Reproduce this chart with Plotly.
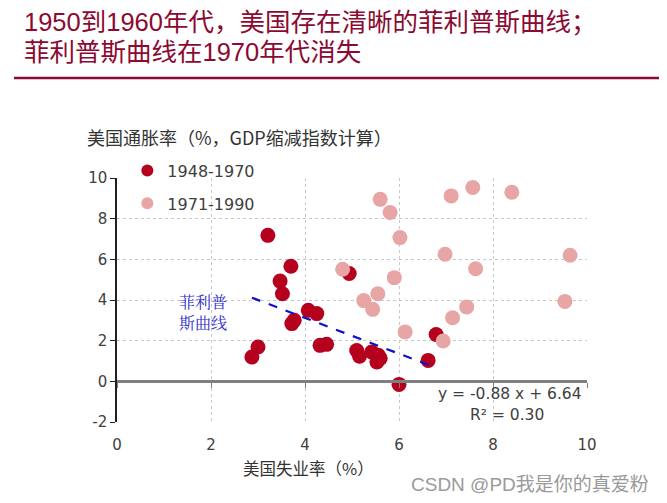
import plotly.graph_objects as go

# ---- data ----
early_unemp = [3.21, 3.70, 3.47, 3.52, 3.72, 3.77, 4.07, 4.25, 4.32, 4.46, 2.87, 3.00,
               5.10, 5.16, 5.42, 5.56, 5.53, 5.60, 6.00, 6.79, 6.62, 4.94]
early_infl = [7.18, 5.66, 4.93, 4.31, 2.84, 3.00, 3.49, 3.33, 1.77, 1.82, 1.20, 1.69,
              1.52, 1.23, 1.44, 1.28, 0.95, 1.13, -0.15, 2.30, 1.03, 5.30]
late_unemp = [5.60, 5.81, 6.02, 7.11, 7.57, 8.40, 6.98, 9.64, 4.80, 7.63, 5.90, 5.55,
              5.25, 5.44, 6.13, 6.94, 7.14, 7.44, 9.53]
late_infl = [8.95, 8.30, 7.07, 9.12, 9.53, 9.30, 6.25, 6.20, 5.51, 5.54, 5.10, 4.31,
             3.97, 3.54, 2.43, 1.98, 3.13, 3.66, 3.93]
series_names = ["1948-1970", "1971-1990"]
slope, intercept, r2 = -0.88, 6.64, 0.30
x_ticks = [0, 2, 4, 6, 8, 10]
y_ticks = [-2, 0, 2, 4, 6, 8, 10]
y_tick_text = ["-2", "0", "2", "4", "6", "8", "10"]

DARK = "#B5001E"
PINK = "#E8A5A5"
TXT = "#404040"
NUM_FONT = "DejaVu Sans, Noto Sans CJK SC"
CJK_FONT = "Noto Sans CJK SC"
OFF = 8  # page body margin

fig = go.Figure()
fig.add_trace(go.Scatter(x=early_unemp, y=early_infl, mode="markers", name=series_names[0],
                         legendgroup="a",
                         marker=dict(color=DARK, size=15, line=dict(width=0))))
fig.add_trace(go.Scatter(x=late_unemp, y=late_infl, mode="markers", name=series_names[1],
                         legendgroup="b",
                         marker=dict(color=PINK, size=15, line=dict(width=0))))
# trend line over the range of the 1948-1970 data
x0, x1 = min(early_unemp), max(early_unemp)
fig.add_trace(go.Scatter(x=[x0, x1], y=[slope * x0 + intercept, slope * x1 + intercept],
                         mode="lines", showlegend=False,
                         line=dict(color="#1010CC", width=2.2, dash="dash")))
# invisible trace to host the zero-line axis
fig.add_trace(go.Scatter(x=[0, 10], y=[0, 0], xaxis="x2", mode="lines",
                         line=dict(width=0), showlegend=False, hoverinfo="skip"))

fig.update_layout(
    width=667, height=503,
    margin=dict(l=117 - OFF, r=667 - (587 - OFF), t=178 - OFF, b=503 - (422 - OFF)),
    paper_bgcolor="white", plot_bgcolor="white",
    showlegend=True,
    legend=dict(x=0.022, y=1.10, xanchor="left", yanchor="top", itemsizing="constant",
                font=dict(family=NUM_FONT, size=16, color=TXT),
                tracegroupgap=9, bgcolor="rgba(0,0,0,0)", itemwidth=30),
    xaxis=dict(range=[0, 10], tickvals=x_ticks, showgrid=True, gridcolor="#C8C8C8",
               griddash="dot", gridwidth=1, zeroline=False, showline=False,
               ticklabelstandoff=12,
               tickfont=dict(family=NUM_FONT, size=15, color=TXT), ticks=""),
    xaxis2=dict(range=[0, 10], overlaying="x", anchor="free", position=2 / 12,
                tickvals=x_ticks, showticklabels=False, showgrid=False, zeroline=False,
                showline=True, linecolor="#7F7F7F", linewidth=2.5,
                ticks="outside", ticklen=5, tickcolor="#7F7F7F", tickwidth=1.2),
    yaxis=dict(range=[-2, 10], tickvals=y_ticks, ticktext=y_tick_text, showgrid=True,
               gridcolor="#C8C8C8",
               griddash="dot", gridwidth=1, zeroline=False, showline=True,
               linecolor="#202020", linewidth=1.5, ticks="outside", ticklen=5,
               tickcolor="#202020", tickfont=dict(family=NUM_FONT, size=15, color=TXT)),
)

ann = [
    dict(text="1950到1960年代，美国存在清晰的菲利普斯曲线；", xref="paper", yref="paper",
         x=(22 - 117) / 470, y=(422 - 22) / 244, xanchor="left", yanchor="middle",
         showarrow=False,
         font=dict(family="Liberation Sans, Noto Sans CJK SC", size=25.5, color="#8B0A32")),
    dict(text="菲利普斯曲线在1970年代消失", xref="paper", yref="paper",
         x=(22 - 117) / 470, y=(422 - 52) / 244, xanchor="left", yanchor="middle",
         showarrow=False,
         font=dict(family="Liberation Sans, Noto Sans CJK SC", size=25.5, color="#8B0A32")),
    dict(text="美国通胀率（%，GDP缩减指数计算）", xref="paper", yref="paper",
         x=(85 - 117) / 470, y=(422 - 137) / 244, xanchor="left", yanchor="middle",
         showarrow=False, font=dict(family=CJK_FONT, size=18, color="#333333")),
    dict(text="美国失业率（%）", xref="paper", yref="paper",
         x=(308 - 117) / 470, y=(422 - 468) / 244, xanchor="center", yanchor="middle",
         showarrow=False, font=dict(family=CJK_FONT, size=16.5, color="#333333")),
    dict(text="CSDN @PD我是你的真爱粉", xref="paper", yref="paper",
         x=(651 - 117) / 470, y=(422 - 484) / 244, xanchor="right", yanchor="middle",
         showarrow=False, font=dict(family="Liberation Sans, Noto Sans CJK SC", size=19,
                                    color="#9A9A9A")),
    dict(text="菲利普<br>斯曲线", xref="x", yref="y", x=1.83, y=3.4,
         xanchor="center", yanchor="middle", showarrow=False, align="center",
         font=dict(family="Noto Serif CJK SC, Noto Sans CJK SC", size=16, color="#3030C8")),
    dict(text=f"y = {slope:.2f} x + {intercept:.2f}", xref="x", yref="y", x=8.36, y=-0.6,
         xanchor="center", yanchor="middle", showarrow=False,
         font=dict(family=NUM_FONT, size=15.5, color=TXT)),
    dict(text=f"R² = {r2:.2f}", xref="x", yref="y", x=8.3, y=-1.68,
         xanchor="center", yanchor="middle", showarrow=False,
         font=dict(family=NUM_FONT, size=15.5, color=TXT)),
]
fig.update_layout(annotations=ann)
fig.add_shape(type="line", xref="paper", yref="paper",
              x0=(14 - 117) / 470, x1=(667 - 117) / 470,
              y0=(422 - 78) / 244, y1=(422 - 78) / 244,
              line=dict(color="#8B0A32", width=2.5))

fig.write_html("out.html")
